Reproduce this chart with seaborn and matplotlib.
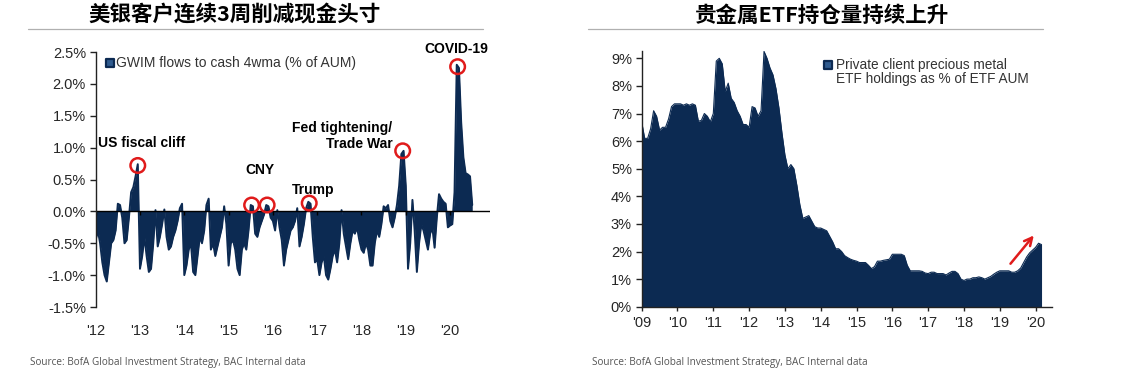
import matplotlib
matplotlib.use("Agg")
import matplotlib.pyplot as plt
from matplotlib.lines import Line2D
import pandas as pd
import seaborn as sns

# 左图：GWIM 现金流（% of AUM），每年约20个点
cash_years = [2012, 2013, 2014, 2015, 2016, 2017, 2018, 2019, 2020]
cash_2012 = [-0.45, -0.3, -0.5, -0.8, -1.0, -1.1, -0.8, -0.5, -0.45, -0.3, 0.12, 0.1, -0.1, -0.5, -0.45, -0.1, 0.3, 0.38, 0.55, 0.74]
cash_2013 = [-0.9, -0.7, -0.4, -0.7, -0.95, -0.9, -0.5, 0.02, -0.55, -0.4, -0.2, 0.03, -0.4, -0.6, -0.55, -0.4, -0.3, -0.15, 0.05, 0.12]
cash_2014 = [-1.0, -0.85, -0.6, -0.5, -0.95, -1.0, -0.7, -0.4, -0.5, -0.3, 0.1, 0.2, -0.6, -0.5, -0.7, -0.55, -0.4, -0.25, 0.08, -0.2]
cash_2015 = [-0.85, -0.5, -0.45, -0.6, -0.9, -1.0, -0.6, -0.5, -0.6, -0.3, 0.1, 0.08, -0.35, -0.4, -0.25, -0.15, -0.05, 0.1, 0.08, -0.1]
cash_2016 = [-0.15, -0.3, 0.02, -0.25, -0.45, -0.85, -0.6, -0.45, -0.3, -0.25, -0.15, 0.05, -0.55, -0.4, -0.2, 0.05, 0.15, 0.12, -0.4, -0.8]
cash_2017 = [-0.75, -1.0, -0.8, -0.7, -1.0, -1.07, -0.9, -0.7, -0.6, -0.8, -0.5, 0.02, -0.35, -0.55, -0.75, -0.5, -0.3, -0.35, -0.25, -0.45]
cash_2018 = [-0.6, -0.65, -0.5, -0.6, -0.85, -0.85, -0.5, -0.3, -0.4, -0.2, 0.08, 0.05, 0.1, -0.15, -0.25, -0.1, 0.1, 0.4, 0.9, 0.95]
cash_2019 = [0.4, -0.9, -0.5, 0.18, -0.3, -0.95, -0.5, -0.2, -0.3, -0.45, -0.6, -0.35, -0.25, -0.57, -0.1, 0.27, 0.2, 0.15, 0.12, -0.25]
cash_2020 = [-0.22, -0.2, 0.3, 2.3, 2.25, 1.4, 0.85, 0.6, 0.58, 0.55, 0.1]
cash_ticks = ["'12", "'13", "'14", "'15", "'16", "'17", "'18", "'19", "'20"]

# 事件标注
event_labels = ["US fiscal cliff", "CNY", "Trump", "Fed tightening/\nTrade War", "COVID-19"]
circle_x = [2012.95, 2015.52, 2015.87, 2016.82, 2018.93, 2020.17]
circle_y = [0.72, 0.1, 0.1, 0.13, 0.95, 2.27]

# 右图：贵金属ETF占比（月度）
etf_years = [2009, 2010, 2011, 2012, 2013, 2014, 2015, 2016, 2017, 2018, 2019, 2020]
etf_2009 = [6.7, 6.1, 6.1, 6.45, 7.1, 6.9, 6.4, 6.5, 6.5, 6.8, 7.25, 7.35]
etf_2010 = [7.35, 7.35, 7.3, 7.35, 7.3, 7.35, 7.3, 6.72, 6.75, 7.0, 6.9, 6.7]
etf_2011 = [7.0, 8.9, 9.0, 8.8, 7.8, 8.1, 7.55, 7.4, 7.1, 6.9, 6.6, 6.6]
etf_2012 = [6.5, 7.25, 7.2, 6.9, 7.1, 9.25, 9.0, 8.65, 8.4, 7.9, 7.2, 6.3]
etf_2013 = [5.5, 5.0, 5.15, 5.0, 4.4, 3.7, 3.2, 3.25, 3.3, 3.1, 2.9, 2.85]
etf_2014 = [2.85, 2.8, 2.75, 2.55, 2.35, 2.1, 2.1, 2.0, 1.85, 1.78, 1.72, 1.68]
etf_2015 = [1.65, 1.6, 1.6, 1.6, 1.5, 1.38, 1.45, 1.65, 1.65, 1.68, 1.7, 1.72]
etf_2016 = [1.9, 1.9, 1.9, 1.9, 1.85, 1.5, 1.3, 1.3, 1.3, 1.3, 1.28, 1.22]
etf_2017 = [1.2, 1.25, 1.25, 1.2, 1.2, 1.2, 1.15, 1.22, 1.28, 1.28, 1.2, 1.0]
etf_2018 = [0.95, 1.0, 1.0, 1.05, 1.05, 1.08, 1.05, 1.0, 1.05, 1.1, 1.18, 1.25]
etf_2019 = [1.3, 1.3, 1.3, 1.3, 1.25, 1.25, 1.3, 1.4, 1.6, 1.8, 1.95, 2.05]
etf_2020 = [2.15, 2.3, 2.25]
etf_ticks = ["'09", "'10", "'11", "'12", "'13", "'14", "'15", "'16", "'17", "'18", "'19", "'20"]

navy = "#0c2a52"
txt = "#262626"


def build(years, lists, per_year):
    xs, ys = [], []
    for yr, vals in zip(years, lists):
        xs += [yr + i / per_year for i in range(len(vals))]
        ys += vals
    return pd.DataFrame({"t": xs, "v": ys})


cash = build(cash_years, [cash_2012, cash_2013, cash_2014, cash_2015, cash_2016,
                          cash_2017, cash_2018, cash_2019, cash_2020], 20)
etf = build(etf_years, [etf_2009, etf_2010, etf_2011, etf_2012, etf_2013, etf_2014,
                        etf_2015, etf_2016, etf_2017, etf_2018, etf_2019, etf_2020], 12)

sns.set_theme(style="white")
plt.rcParams['font.family'] = ['Liberation Sans', 'DejaVu Sans']

fig = plt.figure(figsize=(11.23, 3.78), dpi=100)

# ---------- 左图 ----------
ax1 = fig.add_axes([0.0852, 0.1878, 0.3511, 0.6746])
sns.lineplot(data=cash, x="t", y="v", ax=ax1, color=navy, linewidth=1.4)
ax1.fill_between(cash["t"], cash["v"], 0, color=navy, linewidth=0)
ax1.set_xlim(2012.0, 2020.9)
ax1.set_ylim(-1.5, 2.5)
ax1.set_xlabel("")
ax1.set_ylabel("")
for s in ["top", "right", "bottom"]:
    ax1.spines[s].set_visible(False)
ax1.spines["left"].set_color("#222222")
ax1.spines["left"].set_linewidth(1.0)
ax1.set_yticks([-1.5, -1.0, -0.5, 0.0, 0.5, 1.0, 1.5, 2.0, 2.5])
ax1.set_yticklabels([f"{v:.1f}%" for v in [-1.5, -1.0, -0.5, 0.0, 0.5, 1.0, 1.5, 2.0, 2.5]])
ax1.set_xticks(cash_years)
ax1.set_xticklabels(cash_ticks)
ax1.tick_params(axis="y", left=True, length=4, width=1, color="#222222",
                labelsize=10.5, labelcolor=txt, pad=3)
ax1.tick_params(axis="x", bottom=False, labelsize=10.5, labelcolor=txt, pad=6)
ax1.axhline(0, color="black", linewidth=1.0)
ax1.plot(cash_years, [0] * len(cash_years), linestyle="none", marker=3,
         markersize=3, color="black")
ax1.scatter(circle_x, circle_y, s=110, facecolors="none", edgecolors="#e01b1b",
            linewidths=1.8, zorder=5)

ax1.text(2012.05, 0.96, event_labels[0], fontsize=10, fontweight="bold",
         color="black", ha="left", va="bottom")
ax1.text(2015.7, 0.54, event_labels[1], fontsize=10, fontweight="bold",
         color="black", ha="center", va="bottom")
ax1.text(2016.9, 0.22, event_labels[2], fontsize=10, fontweight="bold",
         color="black", ha="center", va="bottom")
ax1.text(2018.7, 0.94, event_labels[3], fontsize=10, fontweight="bold",
         color="black", ha="right", va="bottom", multialignment="right",
         linespacing=1.25)
ax1.text(2020.15, 2.43, event_labels[4], fontsize=10, fontweight="bold",
         color="black", ha="center", va="bottom")

ax1.scatter([0.036], [0.957], transform=ax1.transAxes, marker="s", s=30,
            facecolor="#2f5b8f", edgecolor=navy, linewidth=1.6, clip_on=False)
ax1.text(0.052, 0.957, "GWIM flows to cash 4wma (% of AUM)", transform=ax1.transAxes,
         fontsize=10, color="#333333", ha="left", va="center")

# ---------- 右图 ----------
ax2 = fig.add_axes([0.5714, 0.1886, 0.3651, 0.6754])
sns.lineplot(data=etf, x="t", y="v", ax=ax2, color=navy, linewidth=0.8)
ax2.fill_between(etf["t"], etf["v"], 0, color=navy, linewidth=0)
ax2.set_xlim(2009.0, 2020.45)
ax2.set_ylim(0, 9.25)
ax2.set_xlabel("")
ax2.set_ylabel("")
for s in ["top", "right"]:
    ax2.spines[s].set_visible(False)
for s in ["left", "bottom"]:
    ax2.spines[s].set_color("#222222")
    ax2.spines[s].set_linewidth(1.0)
ax2.set_yticks(range(0, 10))
ax2.set_yticklabels([f"{v}%" for v in range(0, 10)])
ax2.set_xticks(etf_years)
ax2.set_xticklabels(etf_ticks)
ax2.tick_params(axis="y", left=True, length=4, width=1, color="#222222",
                labelsize=10.5, labelcolor=txt, pad=3)
ax2.tick_params(axis="x", bottom=True, length=3, width=1, color="#222222",
                labelsize=10.5, labelcolor=txt, pad=4)
ax2.annotate("", xy=(2020.0, 2.66), xytext=(2019.25, 1.48),
             arrowprops=dict(arrowstyle="->", color="#e01b1b", lw=1.8,
                             mutation_scale=14))

ax2.scatter([0.454], [0.947], transform=ax2.transAxes, marker="s", s=30,
            facecolor="#2f5b8f", edgecolor=navy, linewidth=1.6, clip_on=False)
ax2.text(0.474, 0.975, "Private client precious metal\nETF holdings as % of ETF AUM",
         transform=ax2.transAxes, fontsize=9.8, color="#333333", ha="left",
         va="top", linespacing=1.05)

# ---------- 标题与来源 ----------
title_font = ['Noto Sans CJK SC', 'DejaVu Sans']
fig.text(235 / 1123, 1 - 15 / 378, "美银客户连续3周削减现金头寸", family=title_font,
         fontsize=15.5, fontweight="bold", color="black", ha="center", va="center")
fig.text(822 / 1123, 1 - 15 / 378, "贵金属ETF持仓量持续上升", family=title_font,
         fontsize=15.5, fontweight="bold", color="black", ha="center", va="center")
for x0, x1 in [(28, 483), (588, 1043)]:
    fig.add_artist(Line2D([x0 / 1123, x1 / 1123], [1 - 29 / 378, 1 - 29 / 378],
                          transform=fig.transFigure, color="#b0b0b0", linewidth=0.9))

src = "Source: BofA Global Investment Strategy, BAC Internal data"
src_font = ['Open Sans', 'DejaVu Sans']
fig.text(30 / 1123, 1 - 362 / 378, src, family=src_font, fontsize=7.2,
         color="#555555", ha="left", va="center")
fig.text(592 / 1123, 1 - 362 / 378, src, family=src_font, fontsize=7.2,
         color="#555555", ha="left", va="center")

fig.savefig("out.png", dpi=100, facecolor="white")
